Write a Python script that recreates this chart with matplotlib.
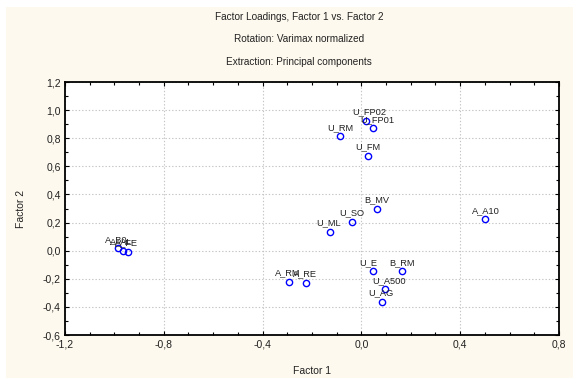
import matplotlib
matplotlib.use("Agg")
import matplotlib.pyplot as plt
from matplotlib.patches import Rectangle
from matplotlib.ticker import MultipleLocator, FuncFormatter

plt.rcParams["font.family"] = ["Liberation Sans", "DejaVu Sans"]

# variable names and their loadings on the first two factors
variables = ["A_B0", "A_AL", "A_FE", "A_RM", "A_RE", "U_ML", "U_SO", "B_MV",
             "U_RM", "U_FP02", "U_FP01", "U_FM", "A_A10", "U_E", "B_RM",
             "U_A500", "U_AG"]
factor1 = [-0.986, -0.964, -0.944, -0.295, -0.226, -0.129, -0.037, 0.064,
           -0.087, 0.017, 0.047, 0.027, 0.501, 0.045, 0.166, 0.097, 0.082]
factor2 = [0.017, 0.000, -0.009, -0.220, -0.227, 0.135, 0.206, 0.297,
           0.814, 0.925, 0.871, 0.676, 0.223, -0.146, -0.146, -0.275, -0.365]

titles = ["Factor Loadings, Factor 1 vs. Factor 2",
          "Rotation: Varimax normalized",
          "Extraction: Principal components"]

W, H = 573, 379
fig = plt.figure(figsize=(W / 100, H / 100), dpi=100)
fig.patch.set_facecolor("white")

# cream panel behind everything
panel = Rectangle((6 / W, 1 / H), (W - 6) / W, (H - 8) / H,
                  transform=fig.transFigure, facecolor="#FDF9EE",
                  edgecolor="none", zorder=-10)
fig.add_artist(panel)

ax = fig.add_axes([65 / W, (H - 335) / H, (559 - 65) / W, (335 - 82) / H])
ax.set_facecolor("white")

ax.plot(factor1, factor2, linestyle="none", marker="o", markersize=4.5,
        markerfacecolor="none", markeredgecolor="#0000FF", markeredgewidth=1.0,
        zorder=3)
for name, x, y in zip(variables, factor1, factor2):
    ax.annotate(name, (x, y), xytext=(-9.4, 4.6), textcoords="offset points",
                ha="left", va="baseline", fontsize=6.7, color="#222222",
                zorder=4)

ax.set_xlim(-1.2, 0.8)
ax.set_ylim(-0.6, 1.2)
ax.xaxis.set_major_locator(MultipleLocator(0.4))
ax.xaxis.set_minor_locator(MultipleLocator(0.1))
ax.yaxis.set_major_locator(MultipleLocator(0.2))
ax.yaxis.set_minor_locator(MultipleLocator(0.1))
fmt = FuncFormatter(lambda v, _: f"{v:.1f}".replace(".", ",").replace("-0,0", "0,0"))
ax.xaxis.set_major_formatter(fmt)
ax.yaxis.set_major_formatter(fmt)

ax.tick_params(which="both", direction="in", top=True, right=True,
               labelsize=7.5, colors="black", labelcolor="#222222", pad=3)
ax.tick_params(which="major", length=3, width=0.8)
ax.tick_params(which="minor", length=2.5, width=0.8)
for s in ax.spines.values():
    s.set_linewidth(1.3)

ax.grid(True, which="major", linestyle=(0, (1.2, 1.8)), color="#C4C4C4",
        linewidth=0.8)
ax.set_axisbelow(True)

ax.set_xlabel("Factor 1", fontsize=7.5, labelpad=12, color="#222222")
ax.set_ylabel("Factor 2", fontsize=7.5, labelpad=12, color="#222222")

for i, t in enumerate(titles):
    fig.text(299 / W, 1 - (17 + 22.5 * i) / H, t, ha="center", va="center",
             fontsize=7.2, color="#222222")

fig.savefig("out.png", dpi=100, facecolor=fig.get_facecolor())
